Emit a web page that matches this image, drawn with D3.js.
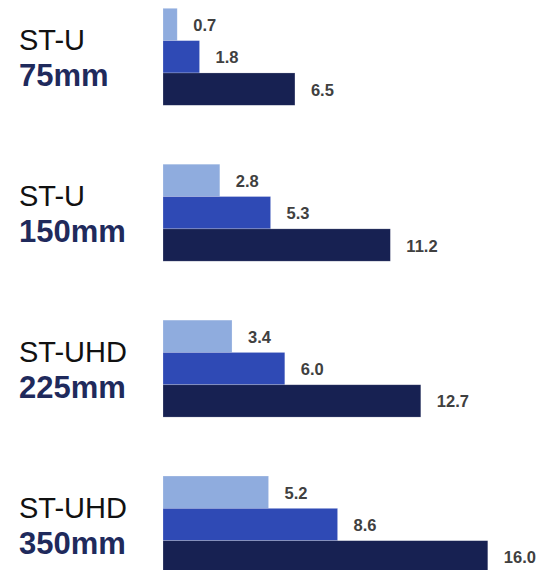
<!DOCTYPE html>
<html>
<head>
<meta charset="utf-8">
<script src="https://cdn.jsdelivr.net/npm/d3@7"></script>
<style>
  html, body { margin: 0; padding: 0; background: #ffffff; }
  svg { display: block; font-family: "Liberation Sans", Arial, sans-serif; }
</style>
</head>
<body>
<svg id="chart" width="543" height="570"></svg>
<script>
// Product groups: model name and size
const models = ["ST-U", "ST-U", "ST-UHD", "ST-UHD"];
const sizes = ["75mm", "150mm", "225mm", "350mm"];

// Three series per group, drawn top to bottom
const seriesKeys = ["low", "mid", "high"];
const lowValues = [0.7, 2.8, 3.4, 5.2];
const midValues = [1.8, 5.3, 6.0, 8.6];
const highValues = [6.5, 11.2, 12.7, 16.0];

const seriesColors = ["#8FACDE", "#2F4AB5", "#172152"];

const rows = sizes.map((s, i) => ({
  model: models[i],
  size: s,
  values: [
    { key: "low", value: lowValues[i] },
    { key: "mid", value: midValues[i] },
    { key: "high", value: highValues[i] }
  ]
}));

const svg = d3.select("#chart");

const x = d3.scaleLinear().domain([0, 16]).range([163, 487.8]);

const y = d3.scaleBand()
  .domain(sizes)
  .range([8.3, 573])
  .paddingInner(0.378)
  .paddingOuter(0);

const ySub = d3.scaleBand()
  .domain(seriesKeys)
  .range([0, y.bandwidth()])
  .padding(0);

const color = d3.scaleOrdinal().domain(seriesKeys).range(seriesColors);

const groups = svg.selectAll("g.group")
  .data(rows)
  .join("g")
  .attr("class", "group")
  .attr("transform", d => `translate(0,${y(d.size)})`);

// Bars
groups.selectAll("rect")
  .data(d => d.values)
  .join("rect")
  .attr("x", x(0))
  .attr("y", d => ySub(d.key))
  .attr("width", d => x(d.value) - x(0))
  .attr("height", ySub.bandwidth())
  .attr("fill", d => color(d.key))
  .attr("stroke", "rgba(255,255,255,0.35)")
  .attr("stroke-width", 0.6);

// Value labels
groups.selectAll("text.value")
  .data(d => d.values)
  .join("text")
  .attr("class", "value")
  .attr("x", d => x(d.value) + 16)
  .attr("y", d => ySub(d.key) + ySub.bandwidth() / 2 + 6.5)
  .attr("font-size", "16.5px")
  .attr("font-weight", "bold")
  .attr("fill", "#404040")
  .text(d => d.value.toFixed(1));

// Group labels: model name and size
groups.append("text")
  .attr("x", 19)
  .attr("y", y.bandwidth() / 2 - 6.5)
  .attr("font-size", "29px")
  .attr("fill", "#111111")
  .text(d => d.model);

groups.append("text")
  .attr("x", 19)
  .attr("y", y.bandwidth() / 2 + 29.5)
  .attr("font-size", "31px")
  .attr("font-weight", "bold")
  .attr("fill", "#1F2A5C")
  .text(d => d.size);
</script>
</body>
</html>
